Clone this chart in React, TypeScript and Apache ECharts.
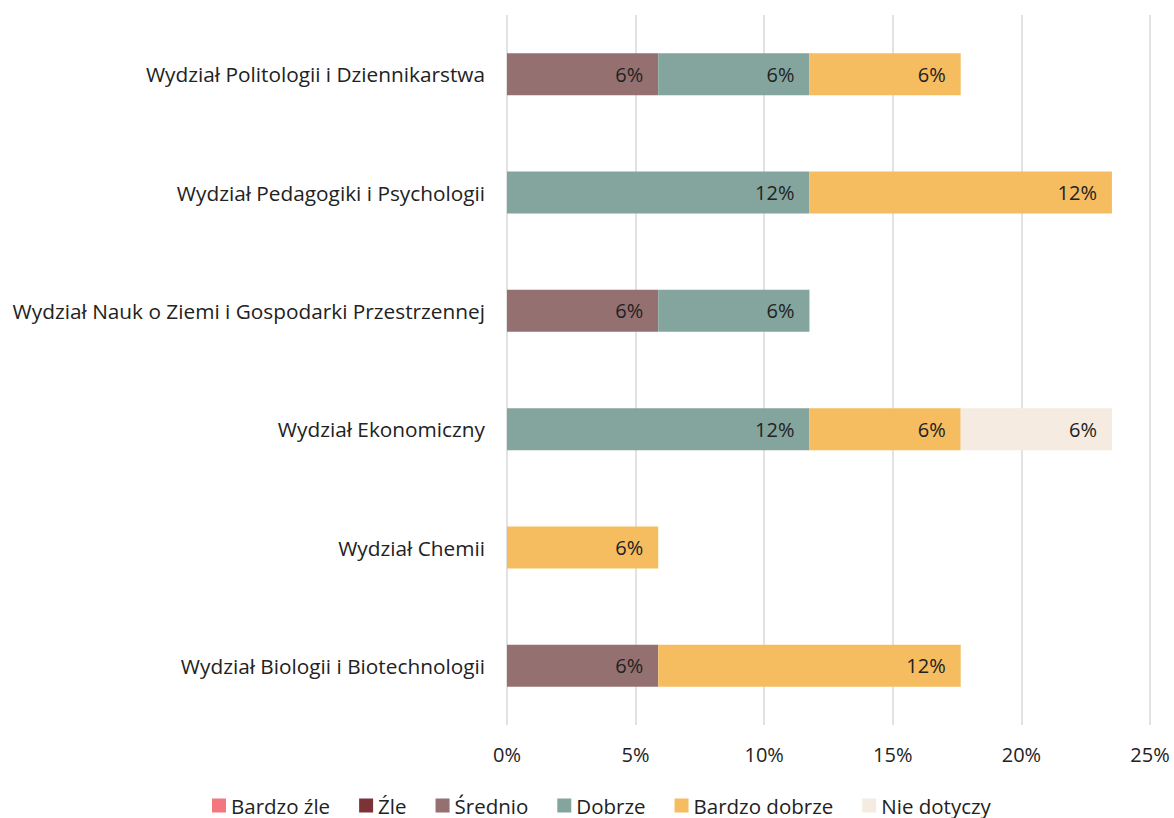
import React, { useEffect, useRef } from "react";
import * as echarts from "echarts";

const categories = [
  "Wydział Politologii i Dziennikarstwa",
  "Wydział Pedagogiki i Psychologii",
  "Wydział Nauk o Ziemi i Gospodarki Przestrzennej",
  "Wydział Ekonomiczny",
  "Wydział Chemii",
  "Wydział Biologii i Biotechnologii",
];

const seriesNames = ["Bardzo źle", "Źle", "Średnio", "Dobrze", "Bardzo dobrze", "Nie dotyczy"];
const seriesColors = ["#F4777F", "#7B3338", "#947070", "#84A59D", "#F5BD60", "#F5EBE0"];

const bardzoZle: (number | null)[] = [null, null, null, null, null, null];
const zle: (number | null)[] = [null, null, null, null, null, null];
const srednio: (number | null)[] = [5.88, null, 5.88, null, null, 5.88];
const dobrze: (number | null)[] = [5.88, 11.76, 5.88, 11.76, null, null];
const bardzoDobrze: (number | null)[] = [5.88, 11.76, null, 5.88, 5.88, 11.76];
const nieDotyczy: (number | null)[] = [null, null, null, 5.88, null, null];

const seriesData = [bardzoZle, zle, srednio, dobrze, bardzoDobrze, nieDotyczy];

const xTicks = [0, 5, 10, 15, 20, 25];

const FONT = "'Open Sans', sans-serif";

export default function App() {
  const ref = useRef<HTMLDivElement>(null);
  useEffect(() => {
    if (!ref.current) return;
    const chart = echarts.init(ref.current, undefined, { renderer: "svg" });
    chart.setOption({
      animation: false,
      textStyle: { fontFamily: FONT },
      grid: { left: 507, right: 24, top: 15, bottom: 93, containLabel: false },
      legend: {
        bottom: -3,
        left: 207,
        itemWidth: 14,
        itemHeight: 14,
        itemGap: 29,
        icon: "rect",
        textStyle: { fontSize: 20.5, color: "#222", fontFamily: FONT },
        data: seriesNames,
      },
      xAxis: {
        type: "value",
        min: xTicks[0],
        max: xTicks[xTicks.length - 1],
        interval: 5,
        axisLine: { show: false },
        axisTick: { show: false },
        splitLine: { show: true, lineStyle: { color: "#d9d9d9", width: 1.5 } },
        axisLabel: {
          formatter: (v: number) => v + "%",
          fontSize: 20,
          color: "#222",
          margin: 19,
          fontFamily: FONT,
        },
      },
      yAxis: {
        type: "category",
        inverse: true,
        data: categories,
        axisLine: { show: false },
        axisTick: { show: false },
        axisLabel: { fontSize: 20.8, color: "#222", margin: 22, fontFamily: FONT },
      },
      series: seriesNames.map((name, i) => ({
        name,
        type: "bar",
        stack: "total",
        barWidth: "35.5%",
        itemStyle: { color: seriesColors[i] },
        label: {
          show: true,
          position: "insideRight",
          distance: 15,
          fontSize: 20,
          color: "#222",
          fontFamily: FONT,
          formatter: (p: any) => (p.value == null ? "" : Math.round(p.value) + "%"),
        },
        data: seriesData[i],
      })),
    });
    return () => chart.dispose();
  }, []);
  return <div ref={ref} style={{ width: 1174, height: 818, position: "absolute", left: 0, top: 0 }} />;
}
